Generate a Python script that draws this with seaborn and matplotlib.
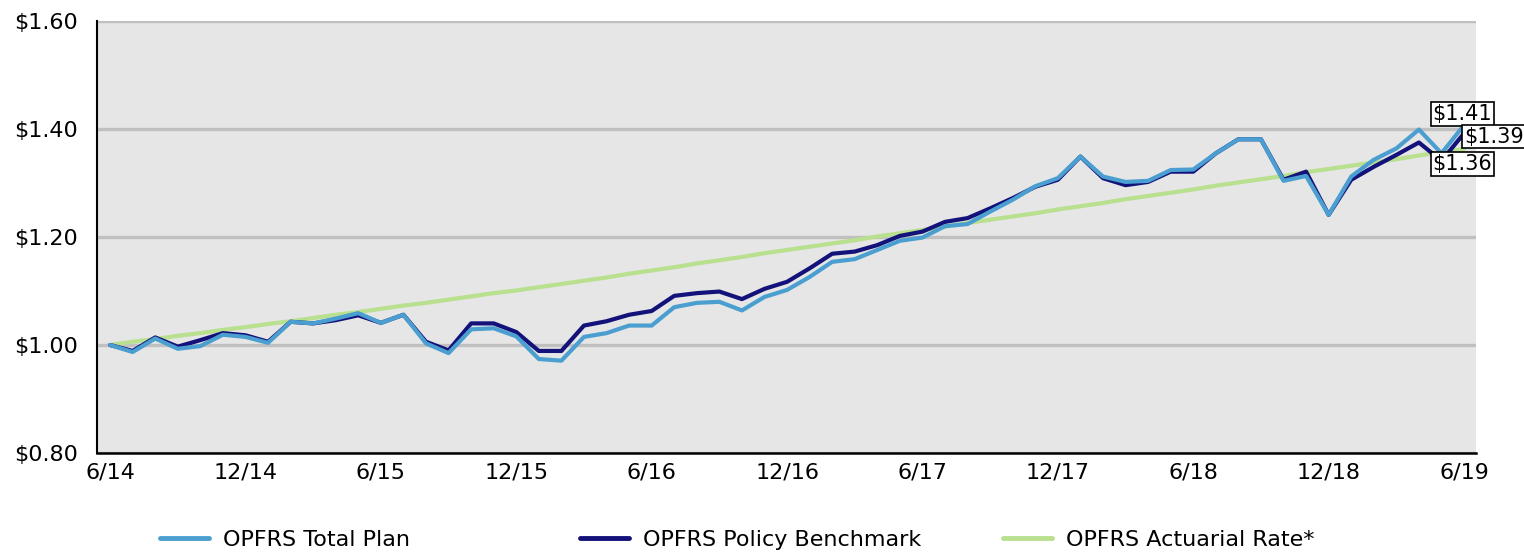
import numpy as np
import pandas as pd
import matplotlib
matplotlib.use("Agg")
import matplotlib.pyplot as plt
import seaborn as sns
from matplotlib.lines import Line2D

# growth of $1, monthly, 6/14 .. 6/19
total_plan = [1.000, 0.987, 1.012, 0.993, 0.998, 1.019, 1.015, 1.004, 1.043, 1.040,
              1.049, 1.059, 1.041, 1.056, 1.003, 0.985, 1.029, 1.031, 1.016, 0.974,
              0.971, 1.015, 1.022, 1.036, 1.036, 1.070, 1.078, 1.080, 1.064, 1.089,
              1.102, 1.126, 1.154, 1.159, 1.176, 1.193, 1.199, 1.220, 1.224, 1.247,
              1.269, 1.294, 1.309, 1.349, 1.312, 1.302, 1.304, 1.324, 1.325, 1.355,
              1.381, 1.381, 1.304, 1.313, 1.241, 1.312, 1.343, 1.364, 1.399, 1.355,
              1.407]
benchmark = [1.000, 0.989, 1.014, 0.997, 1.009, 1.022, 1.018, 1.006, 1.043, 1.040,
             1.046, 1.055, 1.041, 1.056, 1.006, 0.990, 1.040, 1.040, 1.024, 0.989,
             0.989, 1.036, 1.044, 1.056, 1.063, 1.091, 1.096, 1.099, 1.085, 1.104,
             1.117, 1.142, 1.169, 1.173, 1.185, 1.202, 1.210, 1.228, 1.235, 1.253,
             1.272, 1.293, 1.306, 1.349, 1.309, 1.296, 1.302, 1.321, 1.321, 1.355,
             1.381, 1.381, 1.306, 1.321, 1.241, 1.306, 1.330, 1.352, 1.375, 1.341,
             1.392]
actuarial = [1.000, 1.006, 1.011, 1.017, 1.022, 1.028, 1.033, 1.039, 1.044, 1.050,
             1.056, 1.061, 1.067, 1.073, 1.078, 1.084, 1.090, 1.096, 1.101, 1.107,
             1.113, 1.119, 1.125, 1.132, 1.138, 1.144, 1.151, 1.157, 1.163, 1.170,
             1.176, 1.182, 1.188, 1.194, 1.201, 1.207, 1.213, 1.219, 1.226, 1.232,
             1.238, 1.244, 1.251, 1.257, 1.263, 1.270, 1.276, 1.282, 1.288, 1.295,
             1.301, 1.307, 1.313, 1.320, 1.326, 1.332, 1.338, 1.344, 1.351, 1.357,
             1.363]

tick_labels = ["6/14", "12/14", "6/15", "12/15", "6/16", "12/16",
               "6/17", "12/17", "6/18", "12/18", "6/19"]
y_ticks = [0.80, 1.00, 1.20, 1.40, 1.60]

names = ["OPFRS Total Plan", "OPFRS Policy Benchmark", "OPFRS Actuarial Rate*"]
colors = ["#4a9fd0", "#13127a", "#b8e08e"]

month = np.arange(len(total_plan))
df = pd.DataFrame({"month": month, names[0]: total_plan,
                   names[1]: benchmark, names[2]: actuarial})

sns.set_style("white")
plt.rcParams["font.family"] = ["DejaVu Sans"]
plt.rcParams["text.color"] = "black"
plt.rcParams["xtick.labelcolor"] = "black"
plt.rcParams["ytick.labelcolor"] = "black"
fs = 16

fig = plt.figure(figsize=(15.24, 5.53), dpi=100)
ax = fig.add_axes([97 / 1524, 100 / 553, 1379 / 1524, 432 / 553])
ax.set_facecolor("#e6e6e6")
ax.set_axisbelow(True)
ax.grid(axis="y", color="#c0c0c0", linewidth=2.4)
ax.grid(axis="x", visible=False)

# draw order: actuarial at the back, total plan on top
for i in [2, 1, 0]:
    sns.lineplot(data=df, x="month", y=names[i], color=colors[i], lw=3.0,
                 ax=ax, legend=False, zorder=3 + (2 - i))

ax.set_xlim(-0.58, 60.53)
ax.set_ylim(0.80, 1.60)
ax.set_xticks(np.arange(0, 61, 6))
ax.set_xticklabels(tick_labels)
ax.set_yticks(y_ticks)
ax.set_yticklabels([r"\$%.2f" % v for v in y_ticks])
ax.set_xlabel("")
ax.set_ylabel("")

ax.tick_params(axis="x", direction="out", length=6, width=2.2, color="#c8ccd2",
               labelsize=fs, pad=1)
ax.tick_params(axis="y", length=0, labelsize=fs, pad=14)

for s in ["top", "right"]:
    ax.spines[s].set_visible(False)
ax.spines["left"].set_color("black")
ax.spines["left"].set_linewidth(1.5)
ax.spines["bottom"].set_color("black")
ax.spines["bottom"].set_linewidth(1.8)

# end-value labels
lfs = 15
box = dict(boxstyle="square,pad=0.08", fc="white", ec="black", lw=1.2)
ax.text(58.6, 1.428, r"\$1.41", fontsize=lfs, va="center", ha="left", bbox=box, zorder=10)
ax.text(60.0, 1.386, r"\$1.39", fontsize=lfs, va="center", ha="left", bbox=box,
        zorder=10, clip_on=False)
ax.text(58.6, 1.335, r"\$1.36", fontsize=lfs, va="center", ha="left", bbox=box, zorder=10)

# legend, three fixed slots along the bottom
slots = [140 / 1524, 560 / 1524, 983 / 1524]
for name, c, xs in zip(names, colors, slots):
    h = Line2D([], [], color=c, lw=3.5)
    fig.legend(handles=[h], labels=[name], loc="center left",
               bbox_to_anchor=(xs, 13 / 553), frameon=False, fontsize=fs,
               handlelength=2.2, handletextpad=0.65)

fig.savefig("out.png", dpi=100, facecolor="white")
